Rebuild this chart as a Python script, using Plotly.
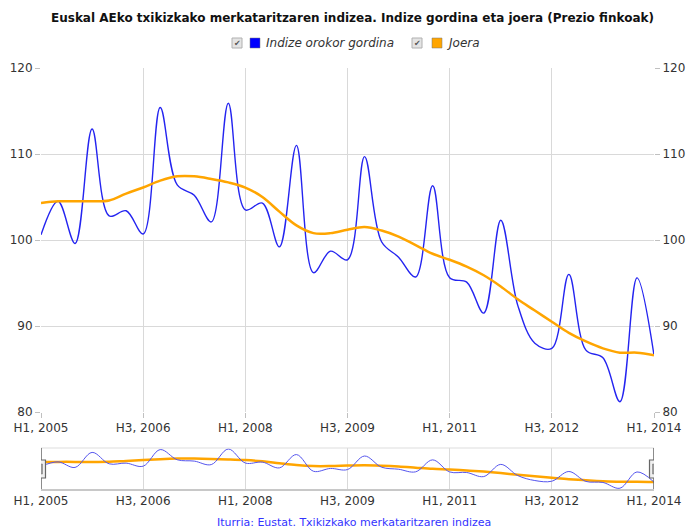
import plotly.graph_objects as go

# ---- data ----
tick_labels = ["H1, 2005", "H3, 2006", "H1, 2008", "H3, 2009", "H1, 2011", "H3, 2012", "H1, 2014"]
tick_index = [0, 6, 12, 18, 24, 30, 36]
quarters = list(range(37))  # H1 2005 .. H1 2014

indize_gordina = [100.6, 104.5, 99.6, 112.9, 102.8, 103.4, 100.7, 115.4, 106.4, 105.2,
                  102.1, 115.9, 103.5, 104.3, 99.2, 111.0, 96.2, 98.7, 97.7, 109.7,
                  99.8, 98.0, 95.7, 106.3, 95.6, 95.1, 91.5, 102.3, 92.4, 88.0,
                  87.4, 96.0, 87.2, 86.3, 81.2, 95.6, 86.6]
joera = [104.3, 104.5, 104.5, 104.5, 104.6, 105.4, 106.1, 106.9, 107.4, 107.4,
         107.1, 106.7, 106.1, 105.0, 103.3, 101.7, 100.8, 100.8, 101.2, 101.5,
         101.1, 100.4, 99.4, 98.4, 97.7, 96.9, 95.9, 94.6, 93.1, 91.8,
         90.5, 89.2, 88.2, 87.4, 86.9, 86.9, 86.6]

title_text = "Euskal AEko txikizkako merkataritzaren indizea. Indize gordina eta joera (Prezio finkoak)"
series_names = ["Indize orokor gordina", "Joera"]
source_text = "Iturria: Eustat. Txikizkako merkataritzaren indizea"

BLUE = "#2424f0"
ORANGE = "#FFA500"
GRID = "#d9d9d9"
FONT = "DejaVu Sans"

W, H = 687, 529
L, R, T, B = 41, 654, 68, 489  # plot pixel box


def px(x):
    return (x - L) / (R - L)


def py(y):
    return (B - y) / (B - T)


fig = go.Figure()
fig.add_trace(go.Scatter(x=quarters, y=indize_gordina, mode="lines", name=series_names[0],
                         line=dict(color=BLUE, width=1.4, shape="spline", smoothing=1.0),
                         xaxis="x", yaxis="y", showlegend=False))
fig.add_trace(go.Scatter(x=quarters, y=joera, mode="lines", name=series_names[1],
                         line=dict(color=ORANGE, width=2.5, shape="spline", smoothing=1.0),
                         xaxis="x", yaxis="y3", showlegend=False))
# navigator
fig.add_trace(go.Scatter(x=quarters, y=joera, mode="lines",
                         line=dict(color=ORANGE, width=2.5, shape="spline", smoothing=1.0),
                         xaxis="x2", yaxis="y2", showlegend=False, hoverinfo="skip"))
fig.add_trace(go.Scatter(x=quarters, y=indize_gordina, mode="lines",
                         line=dict(color="#5555ee", width=1, shape="spline", smoothing=1.0),
                         xaxis="x2", yaxis="y2", showlegend=False, hoverinfo="skip"))

main_bottom = py(412)
nav_top = py(448)
tickfont = dict(family=FONT, size=12, color="#333333")

fig.update_layout(
    width=W, height=H, autosize=False,
    margin=dict(l=L, r=W - R, t=T, b=H - B, pad=0, autoexpand=False),
    paper_bgcolor="white", plot_bgcolor="white",
    font=dict(family=FONT, size=12, color="#333333"),
    xaxis=dict(domain=[0, 1], anchor="y", range=[0, 36], tickvals=tick_index, ticktext=tick_labels,
               showgrid=True, gridcolor=GRID, gridwidth=1, zeroline=False, showline=False,
               ticks="outside", ticklen=5, tickcolor="#c0c0c0", tickfont=tickfont),
    yaxis=dict(domain=[main_bottom, 1], anchor="x", range=[80, 120], tickvals=[80, 90, 100, 110, 120],
               showgrid=True, gridcolor=GRID, gridwidth=1, zeroline=False, showline=False,
               ticks="outside", ticklen=5, tickcolor="#c0c0c0", tickfont=tickfont),
    yaxis3=dict(overlaying="y", side="right", anchor="x", range=[80, 120],
                tickvals=[80, 90, 100, 110, 120], showgrid=False, zeroline=False, showline=False,
                ticks="outside", ticklen=5, tickcolor="#c0c0c0", tickfont=tickfont),
    xaxis2=dict(domain=[0, 1], anchor="y2", range=[0, 36], tickvals=tick_index, ticktext=tick_labels,
                showgrid=True, gridcolor=GRID, gridwidth=1, zeroline=False,
                showline=True, linecolor="#c8c8c8", linewidth=2,
                ticks="", tickfont=tickfont),
    yaxis2=dict(domain=[0, nav_top], anchor="x2", range=[80.5, 116.8], showgrid=False,
                showticklabels=False, zeroline=False, ticks=""),
    showlegend=False,
)

shapes = []
# navigator top border
shapes.append(dict(type="line", xref="paper", yref="paper", x0=0, x1=1, y0=nav_top, y1=nav_top,
                   line=dict(color="#dddddd", width=1)))
# navigator handles
for xv in (0, 36):
    shapes.append(dict(type="line", xref="x2", yref="paper", x0=xv, x1=xv, y0=0, y1=nav_top,
                       line=dict(color="#666666", width=1.5)))
    shapes.append(dict(type="rect", xref="x2", yref="paper", xsizemode="pixel", ysizemode="pixel",
                       xanchor=xv, yanchor=py(469), x0=-4.5, x1=4.5, y0=-9, y1=9,
                       fillcolor="#efefef", line=dict(color="#666666", width=1.2)))
    shapes.append(dict(type="rect", xref="x2", yref="paper", xsizemode="pixel", ysizemode="pixel",
                       xanchor=xv, yanchor=py(469), x0=-1.5, x1=1.5, y0=-5, y1=5,
                       fillcolor="#999999", line=dict(color="#777777", width=0.5)))

# legend: checkboxes and colour squares
legend_y = 43
for cb_x, sq_x, col in ((232, 250, "#0000ff"), (412, 432, ORANGE)):
    shapes.append(dict(type="rect", xref="paper", yref="paper",
                       x0=px(cb_x), x1=px(cb_x + 10), y0=py(legend_y + 5), y1=py(legend_y - 5),
                       fillcolor="#e4e4e4", line=dict(color="#b0b0b0", width=1)))
    shapes.append(dict(type="rect", xref="paper", yref="paper",
                       x0=px(sq_x), x1=px(sq_x + 10), y0=py(legend_y + 5), y1=py(legend_y - 5),
                       fillcolor=col, line=dict(color="#777777", width=0.5)))
fig.update_layout(shapes=shapes)

annotations = [
    dict(text="<b>" + title_text + "</b>", xref="paper", yref="paper", x=px(352), y=py(18),
         xanchor="center", yanchor="middle", showarrow=False,
         font=dict(family=FONT, size=12, color="#111111")),
    dict(text=series_names[0], xref="paper", yref="paper", x=px(264), y=py(legend_y),
         xanchor="left", yanchor="middle", showarrow=False,
         font=dict(family=FONT, size=12, color="#333333", style="italic")),
    dict(text=series_names[1], xref="paper", yref="paper", x=px(445), y=py(legend_y),
         xanchor="left", yanchor="middle", showarrow=False,
         font=dict(family=FONT, size=12, color="#333333", style="italic")),
    dict(text=source_text, xref="paper", yref="paper", x=px(354), y=py(522),
         xanchor="center", yanchor="middle", showarrow=False,
         font=dict(family=FONT, size=11, color="#3333ff")),
]
for cb_x in (232, 412):
    annotations.append(dict(text="✔", xref="paper", yref="paper", x=px(cb_x + 5), y=py(legend_y),
                            xanchor="center", yanchor="middle", showarrow=False,
                            font=dict(family=FONT, size=8, color="#555555")))
fig.update_layout(annotations=annotations)

fig.write_html("out.html",
               config={"displayModeBar": False, "responsive": False},
               post_script="document.body.style.margin='0';document.documentElement.style.overflow='hidden';document.body.style.overflow='hidden';")
